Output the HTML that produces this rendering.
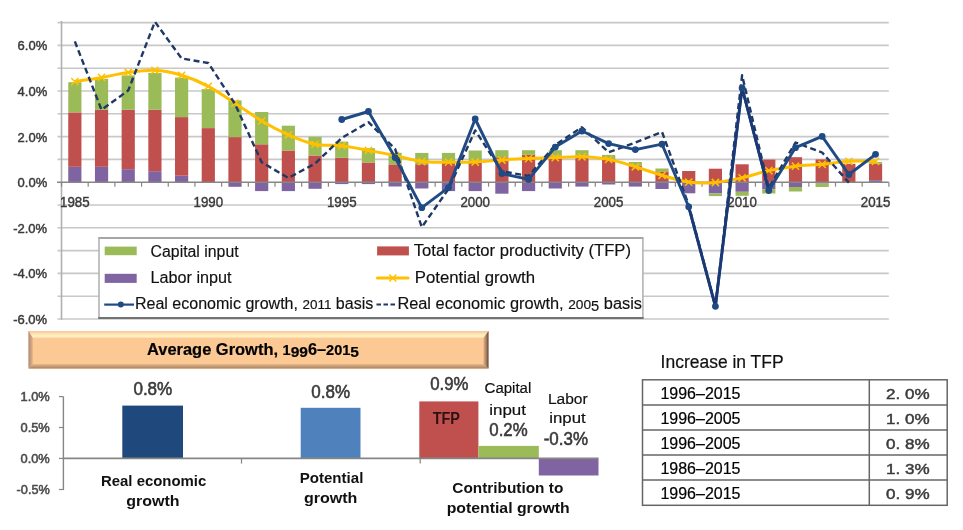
<!DOCTYPE html>
<html><head><meta charset="utf-8"><style>
html,body{margin:0;padding:0;background:#fff;width:963px;height:530px;overflow:hidden}
svg{display:block;font-family:"Liberation Sans",sans-serif;filter:blur(0.4px)}
.ax{font-size:13.5px;fill:#3a3a3a;stroke:#3a3a3a;stroke-width:0.45px}
.xl{font-size:14px;fill:#3a3a3a;stroke:#3a3a3a;stroke-width:0.4px}
.lg{font-size:16px;fill:#111;stroke:#111;stroke-width:0.15px}
.bn{font-size:16px;font-weight:bold;fill:#000;stroke:#000;stroke-width:0.2px}
.sax{font-size:12px;fill:#4a4a4a;stroke:#4a4a4a;stroke-width:0.5px}
.vl{font-size:17.5px;fill:#3a3a3a;stroke:#3a3a3a;stroke-width:0.55px}
.tfp{font-size:16px;fill:#2a1212;font-weight:bold}
.cl{font-size:15.5px;fill:#111;stroke:#111;stroke-width:0.2px}
.cat{font-size:14.5px;font-weight:bold;fill:#111}
.tt{font-size:18px;fill:#111;stroke:#111;stroke-width:0.2px}
.td{font-size:16px;fill:#000;stroke:#000;stroke-width:0.2px}
.tv{font-size:14.5px;fill:#3a3a3a;stroke:#3a3a3a;stroke-width:0.45px}
</style></head><body>
<svg width="963" height="530" viewBox="0 0 963 530">
<line x1="57.5" y1="22.6" x2="888.8" y2="22.6" stroke="#c8c8c8" stroke-width="1.6"/>
<line x1="57.5" y1="45.4" x2="888.8" y2="45.4" stroke="#c8c8c8" stroke-width="1.6"/>
<line x1="57.5" y1="68.2" x2="888.8" y2="68.2" stroke="#c8c8c8" stroke-width="1.6"/>
<line x1="57.5" y1="91" x2="888.8" y2="91" stroke="#c8c8c8" stroke-width="1.6"/>
<line x1="57.5" y1="113.8" x2="888.8" y2="113.8" stroke="#c8c8c8" stroke-width="1.6"/>
<line x1="57.5" y1="136.6" x2="888.8" y2="136.6" stroke="#c8c8c8" stroke-width="1.6"/>
<line x1="57.5" y1="159.4" x2="888.8" y2="159.4" stroke="#c8c8c8" stroke-width="1.6"/>
<line x1="57.5" y1="205" x2="888.8" y2="205" stroke="#c8c8c8" stroke-width="1.6"/>
<line x1="57.5" y1="227.8" x2="888.8" y2="227.8" stroke="#c8c8c8" stroke-width="1.6"/>
<line x1="57.5" y1="250.6" x2="888.8" y2="250.6" stroke="#c8c8c8" stroke-width="1.6"/>
<line x1="57.5" y1="273.4" x2="888.8" y2="273.4" stroke="#c8c8c8" stroke-width="1.6"/>
<line x1="57.5" y1="296.2" x2="888.8" y2="296.2" stroke="#c8c8c8" stroke-width="1.6"/>
<line x1="57.5" y1="319" x2="888.8" y2="319" stroke="#c8c8c8" stroke-width="1.6"/>
<line x1="61.5" y1="21" x2="61.5" y2="319.8" stroke="#b0b0b0" stroke-width="1.6"/>
<text x="47.2" y="50.4" text-anchor="end" class="ax" textLength="29.6" lengthAdjust="spacingAndGlyphs">6.0%</text>
<text x="47.2" y="96" text-anchor="end" class="ax" textLength="29.6" lengthAdjust="spacingAndGlyphs">4.0%</text>
<text x="47.2" y="141.6" text-anchor="end" class="ax" textLength="29.6" lengthAdjust="spacingAndGlyphs">2.0%</text>
<text x="47.2" y="187.2" text-anchor="end" class="ax" textLength="29.6" lengthAdjust="spacingAndGlyphs">0.0%</text>
<text x="47.2" y="232.8" text-anchor="end" class="ax" textLength="34" lengthAdjust="spacingAndGlyphs">-2.0%</text>
<text x="47.2" y="278.4" text-anchor="end" class="ax" textLength="34" lengthAdjust="spacingAndGlyphs">-4.0%</text>
<text x="47.2" y="324" text-anchor="end" class="ax" textLength="34" lengthAdjust="spacingAndGlyphs">-6.0%</text>
<rect x="68.25" y="166.8" width="13.2" height="15.4" fill="#8064a2"/>
<rect x="68.25" y="112.4" width="13.2" height="54.4" fill="#c0504d"/>
<rect x="68.25" y="82.2" width="13.2" height="30.2" fill="#9bbb59"/>
<rect x="94.94" y="166.8" width="13.2" height="15.4" fill="#8064a2"/>
<rect x="94.94" y="109.8" width="13.2" height="57" fill="#c0504d"/>
<rect x="94.94" y="78.8" width="13.2" height="31" fill="#9bbb59"/>
<rect x="121.63" y="169.2" width="13.2" height="13" fill="#8064a2"/>
<rect x="121.63" y="109.8" width="13.2" height="59.4" fill="#c0504d"/>
<rect x="121.63" y="75.4" width="13.2" height="34.4" fill="#9bbb59"/>
<rect x="148.32" y="171.2" width="13.2" height="11" fill="#8064a2"/>
<rect x="148.32" y="109.8" width="13.2" height="61.4" fill="#c0504d"/>
<rect x="148.32" y="72.9" width="13.2" height="36.9" fill="#9bbb59"/>
<rect x="175.01" y="175.7" width="13.2" height="6.5" fill="#8064a2"/>
<rect x="175.01" y="117.1" width="13.2" height="58.6" fill="#c0504d"/>
<rect x="175.01" y="77.6" width="13.2" height="39.5" fill="#9bbb59"/>
<rect x="201.7" y="128.1" width="13.2" height="54.1" fill="#c0504d"/>
<rect x="201.7" y="89.1" width="13.2" height="39" fill="#9bbb59"/>
<rect x="228.39" y="137.1" width="13.2" height="45.1" fill="#c0504d"/>
<rect x="228.39" y="100.4" width="13.2" height="36.7" fill="#9bbb59"/>
<rect x="228.39" y="182.2" width="13.2" height="4.6" fill="#8064a2"/>
<rect x="255.08" y="144.3" width="13.2" height="37.9" fill="#c0504d"/>
<rect x="255.08" y="112" width="13.2" height="32.3" fill="#9bbb59"/>
<rect x="255.08" y="182.2" width="13.2" height="8.9" fill="#8064a2"/>
<rect x="281.76" y="150.5" width="13.2" height="31.7" fill="#c0504d"/>
<rect x="281.76" y="125.7" width="13.2" height="24.8" fill="#9bbb59"/>
<rect x="281.76" y="182.2" width="13.2" height="8.9" fill="#8064a2"/>
<rect x="308.45" y="155.5" width="13.2" height="26.7" fill="#c0504d"/>
<rect x="308.45" y="136.8" width="13.2" height="18.7" fill="#9bbb59"/>
<rect x="308.45" y="182.2" width="13.2" height="6.6" fill="#8064a2"/>
<rect x="335.14" y="157.8" width="13.2" height="24.4" fill="#c0504d"/>
<rect x="335.14" y="141.6" width="13.2" height="16.2" fill="#9bbb59"/>
<rect x="335.14" y="182.2" width="13.2" height="1.9" fill="#8064a2"/>
<rect x="361.83" y="162.5" width="13.2" height="19.7" fill="#c0504d"/>
<rect x="361.83" y="148.2" width="13.2" height="14.3" fill="#9bbb59"/>
<rect x="361.83" y="182.2" width="13.2" height="1.9" fill="#8064a2"/>
<rect x="388.52" y="164.4" width="13.2" height="17.8" fill="#c0504d"/>
<rect x="388.52" y="152.8" width="13.2" height="11.6" fill="#9bbb59"/>
<rect x="388.52" y="182.2" width="13.2" height="4.3" fill="#8064a2"/>
<rect x="415.21" y="164.2" width="13.2" height="18" fill="#c0504d"/>
<rect x="415.21" y="152.9" width="13.2" height="11.3" fill="#9bbb59"/>
<rect x="415.21" y="182.2" width="13.2" height="6.3" fill="#8064a2"/>
<rect x="441.9" y="162.6" width="13.2" height="19.6" fill="#c0504d"/>
<rect x="441.9" y="152.9" width="13.2" height="9.7" fill="#9bbb59"/>
<rect x="441.9" y="182.2" width="13.2" height="8.9" fill="#8064a2"/>
<rect x="468.59" y="161" width="13.2" height="21.2" fill="#c0504d"/>
<rect x="468.59" y="150.5" width="13.2" height="10.5" fill="#9bbb59"/>
<rect x="468.59" y="182.2" width="13.2" height="8.9" fill="#8064a2"/>
<rect x="495.29" y="157.3" width="13.2" height="24.9" fill="#c0504d"/>
<rect x="495.29" y="150.2" width="13.2" height="7.1" fill="#9bbb59"/>
<rect x="495.29" y="182.2" width="13.2" height="11.5" fill="#8064a2"/>
<rect x="521.98" y="154.9" width="13.2" height="27.3" fill="#c0504d"/>
<rect x="521.98" y="150.2" width="13.2" height="4.7" fill="#9bbb59"/>
<rect x="521.98" y="182.2" width="13.2" height="8.9" fill="#8064a2"/>
<rect x="548.67" y="155.5" width="13.2" height="26.7" fill="#c0504d"/>
<rect x="548.67" y="150.2" width="13.2" height="5.3" fill="#9bbb59"/>
<rect x="548.67" y="182.2" width="13.2" height="6.3" fill="#8064a2"/>
<rect x="575.36" y="155.5" width="13.2" height="26.7" fill="#c0504d"/>
<rect x="575.36" y="150.2" width="13.2" height="5.3" fill="#9bbb59"/>
<rect x="575.36" y="182.2" width="13.2" height="4.4" fill="#8064a2"/>
<rect x="602.04" y="158.6" width="13.2" height="23.6" fill="#c0504d"/>
<rect x="602.04" y="154.9" width="13.2" height="3.7" fill="#9bbb59"/>
<rect x="602.04" y="182.2" width="13.2" height="2.3" fill="#8064a2"/>
<rect x="628.74" y="165.5" width="13.2" height="16.7" fill="#c0504d"/>
<rect x="628.74" y="162" width="13.2" height="3.5" fill="#9bbb59"/>
<rect x="628.74" y="182.2" width="13.2" height="4.4" fill="#8064a2"/>
<rect x="655.42" y="171.4" width="13.2" height="10.8" fill="#c0504d"/>
<rect x="655.42" y="168.5" width="13.2" height="2.9" fill="#9bbb59"/>
<rect x="655.42" y="182.2" width="13.2" height="6.8" fill="#8064a2"/>
<rect x="682.12" y="171" width="13.2" height="11.2" fill="#c0504d"/>
<rect x="682.12" y="182.2" width="13.2" height="11.1" fill="#8064a2"/>
<rect x="708.81" y="168.7" width="13.2" height="13.5" fill="#c0504d"/>
<rect x="708.81" y="182.2" width="13.2" height="11.3" fill="#8064a2"/>
<rect x="708.81" y="193.5" width="13.2" height="2.6" fill="#9bbb59"/>
<rect x="735.5" y="164.3" width="13.2" height="17.9" fill="#c0504d"/>
<rect x="735.5" y="182.2" width="13.2" height="9.6" fill="#8064a2"/>
<rect x="735.5" y="191.8" width="13.2" height="4" fill="#9bbb59"/>
<rect x="762.19" y="159.6" width="13.2" height="22.6" fill="#c0504d"/>
<rect x="762.19" y="182.2" width="13.2" height="7" fill="#8064a2"/>
<rect x="762.19" y="189.2" width="13.2" height="4.3" fill="#9bbb59"/>
<rect x="788.88" y="157.2" width="13.2" height="25" fill="#c0504d"/>
<rect x="788.88" y="182.2" width="13.2" height="4.8" fill="#8064a2"/>
<rect x="788.88" y="187" width="13.2" height="4.5" fill="#9bbb59"/>
<rect x="815.57" y="159.4" width="13.2" height="22.8" fill="#c0504d"/>
<rect x="815.57" y="182.2" width="13.2" height="1.4" fill="#8064a2"/>
<rect x="815.57" y="183.6" width="13.2" height="3.4" fill="#9bbb59"/>
<rect x="842.25" y="163.8" width="13.2" height="18.4" fill="#c0504d"/>
<rect x="868.95" y="180.2" width="13.2" height="2" fill="#8064a2"/>
<rect x="868.95" y="163.8" width="13.2" height="16.4" fill="#c0504d"/>
<rect x="868.95" y="161.9" width="13.2" height="1.9" fill="#9bbb59"/>
<line x1="57" y1="182.2" x2="888.8" y2="182.2" stroke="#868686" stroke-width="1.6"/>
<line x1="61.5" y1="182.2" x2="61.5" y2="186.7" stroke="#868686" stroke-width="1.2"/>
<line x1="88.19" y1="182.2" x2="88.19" y2="186.7" stroke="#868686" stroke-width="1.2"/>
<line x1="114.88" y1="182.2" x2="114.88" y2="186.7" stroke="#868686" stroke-width="1.2"/>
<line x1="141.57" y1="182.2" x2="141.57" y2="186.7" stroke="#868686" stroke-width="1.2"/>
<line x1="168.26" y1="182.2" x2="168.26" y2="186.7" stroke="#868686" stroke-width="1.2"/>
<line x1="194.95" y1="182.2" x2="194.95" y2="186.7" stroke="#868686" stroke-width="1.2"/>
<line x1="221.64" y1="182.2" x2="221.64" y2="186.7" stroke="#868686" stroke-width="1.2"/>
<line x1="248.33" y1="182.2" x2="248.33" y2="186.7" stroke="#868686" stroke-width="1.2"/>
<line x1="275.02" y1="182.2" x2="275.02" y2="186.7" stroke="#868686" stroke-width="1.2"/>
<line x1="301.71" y1="182.2" x2="301.71" y2="186.7" stroke="#868686" stroke-width="1.2"/>
<line x1="328.4" y1="182.2" x2="328.4" y2="186.7" stroke="#868686" stroke-width="1.2"/>
<line x1="355.09" y1="182.2" x2="355.09" y2="186.7" stroke="#868686" stroke-width="1.2"/>
<line x1="381.78" y1="182.2" x2="381.78" y2="186.7" stroke="#868686" stroke-width="1.2"/>
<line x1="408.47" y1="182.2" x2="408.47" y2="186.7" stroke="#868686" stroke-width="1.2"/>
<line x1="435.16" y1="182.2" x2="435.16" y2="186.7" stroke="#868686" stroke-width="1.2"/>
<line x1="461.85" y1="182.2" x2="461.85" y2="186.7" stroke="#868686" stroke-width="1.2"/>
<line x1="488.54" y1="182.2" x2="488.54" y2="186.7" stroke="#868686" stroke-width="1.2"/>
<line x1="515.23" y1="182.2" x2="515.23" y2="186.7" stroke="#868686" stroke-width="1.2"/>
<line x1="541.92" y1="182.2" x2="541.92" y2="186.7" stroke="#868686" stroke-width="1.2"/>
<line x1="568.61" y1="182.2" x2="568.61" y2="186.7" stroke="#868686" stroke-width="1.2"/>
<line x1="595.3" y1="182.2" x2="595.3" y2="186.7" stroke="#868686" stroke-width="1.2"/>
<line x1="621.99" y1="182.2" x2="621.99" y2="186.7" stroke="#868686" stroke-width="1.2"/>
<line x1="648.68" y1="182.2" x2="648.68" y2="186.7" stroke="#868686" stroke-width="1.2"/>
<line x1="675.37" y1="182.2" x2="675.37" y2="186.7" stroke="#868686" stroke-width="1.2"/>
<line x1="702.06" y1="182.2" x2="702.06" y2="186.7" stroke="#868686" stroke-width="1.2"/>
<line x1="728.75" y1="182.2" x2="728.75" y2="186.7" stroke="#868686" stroke-width="1.2"/>
<line x1="755.44" y1="182.2" x2="755.44" y2="186.7" stroke="#868686" stroke-width="1.2"/>
<line x1="782.13" y1="182.2" x2="782.13" y2="186.7" stroke="#868686" stroke-width="1.2"/>
<line x1="808.82" y1="182.2" x2="808.82" y2="186.7" stroke="#868686" stroke-width="1.2"/>
<line x1="835.51" y1="182.2" x2="835.51" y2="186.7" stroke="#868686" stroke-width="1.2"/>
<line x1="862.2" y1="182.2" x2="862.2" y2="186.7" stroke="#868686" stroke-width="1.2"/>
<line x1="888.89" y1="182.2" x2="888.89" y2="186.7" stroke="#868686" stroke-width="1.2"/>
<text x="74.84" y="206.7" text-anchor="middle" class="xl" textLength="29.6" lengthAdjust="spacingAndGlyphs">1985</text>
<text x="208.3" y="206.7" text-anchor="middle" class="xl" textLength="29.6" lengthAdjust="spacingAndGlyphs">1990</text>
<text x="341.75" y="206.7" text-anchor="middle" class="xl" textLength="29.6" lengthAdjust="spacingAndGlyphs">1995</text>
<text x="475.19" y="206.7" text-anchor="middle" class="xl" textLength="29.6" lengthAdjust="spacingAndGlyphs">2000</text>
<text x="608.64" y="206.7" text-anchor="middle" class="xl" textLength="29.6" lengthAdjust="spacingAndGlyphs">2005</text>
<text x="742.1" y="206.7" text-anchor="middle" class="xl" textLength="29.6" lengthAdjust="spacingAndGlyphs">2010</text>
<text x="875.55" y="206.7" text-anchor="middle" class="xl" textLength="29.6" lengthAdjust="spacingAndGlyphs">2015</text>
<path d="M74.84,81.6 C79.29,80.9 92.64,78.92 101.53,77.4 C110.43,75.88 119.33,73.68 128.23,72.5 C137.12,71.32 146.02,69.83 154.92,70.3 C163.81,70.77 172.71,72.63 181.61,75.3 C190.5,77.97 199.4,81.65 208.3,86.3 C217.19,90.95 226.09,97.42 234.99,103.2 C243.88,108.98 252.78,115.73 261.68,121 C270.57,126.27 279.47,130.92 288.37,134.8 C297.26,138.68 306.16,142.48 315.06,144.3 C323.95,146.12 332.85,144.68 341.75,145.7 C350.64,146.72 359.54,148.75 368.44,150.4 C377.33,152.05 386.23,153.75 395.12,155.6 C404.02,157.45 412.92,160.4 421.81,161.5 C430.71,162.6 439.61,162.12 448.5,162.2 C457.4,162.28 466.3,162.37 475.19,162 C484.09,161.63 492.99,160.57 501.89,160 C510.78,159.43 519.68,159 528.58,158.6 C537.47,158.2 546.37,157.9 555.27,157.6 C564.16,157.3 573.06,156.5 581.96,156.8 C590.85,157.1 599.75,157.73 608.64,159.4 C617.54,161.07 626.44,164.15 635.34,166.8 C644.23,169.45 653.13,172.75 662.02,175.3 C670.92,177.85 679.82,180.9 688.72,182.1 C697.61,183.3 706.51,183.22 715.41,182.5 C724.3,181.78 733.2,179.78 742.1,177.8 C750.99,175.82 759.89,172.53 768.79,170.6 C777.68,168.67 786.58,167.25 795.48,166.2 C804.37,165.15 813.27,165.12 822.17,164.3 C831.06,163.48 839.96,161.8 848.86,161.3 C857.75,160.8 871.1,161.3 875.55,161.3" fill="none" stroke="#ffc000" stroke-width="3"/>
<path d="M71.25,78L78.44,85.2M71.25,85.2L78.44,78" stroke="#ffc000" stroke-width="1.5"/>
<path d="M97.94,73.8L105.13,81M97.94,81L105.13,73.8" stroke="#ffc000" stroke-width="1.5"/>
<path d="M124.63,68.9L131.83,76.1M124.63,76.1L131.83,68.9" stroke="#ffc000" stroke-width="1.5"/>
<path d="M151.32,66.7L158.52,73.9M151.32,73.9L158.52,66.7" stroke="#ffc000" stroke-width="1.5"/>
<path d="M178.01,71.7L185.21,78.9M178.01,78.9L185.21,71.7" stroke="#ffc000" stroke-width="1.5"/>
<path d="M204.7,82.7L211.9,89.9M204.7,89.9L211.9,82.7" stroke="#ffc000" stroke-width="1.5"/>
<path d="M231.39,99.6L238.59,106.8M231.39,106.8L238.59,99.6" stroke="#ffc000" stroke-width="1.5"/>
<path d="M258.07,117.4L265.28,124.6M258.07,124.6L265.28,117.4" stroke="#ffc000" stroke-width="1.5"/>
<path d="M284.76,131.2L291.97,138.4M284.76,138.4L291.97,131.2" stroke="#ffc000" stroke-width="1.5"/>
<path d="M311.45,140.7L318.66,147.9M311.45,147.9L318.66,140.7" stroke="#ffc000" stroke-width="1.5"/>
<path d="M338.14,142.1L345.35,149.3M338.14,149.3L345.35,142.1" stroke="#ffc000" stroke-width="1.5"/>
<path d="M364.83,146.8L372.04,154M364.83,154L372.04,146.8" stroke="#ffc000" stroke-width="1.5"/>
<path d="M391.52,152L398.73,159.2M391.52,159.2L398.73,152" stroke="#ffc000" stroke-width="1.5"/>
<path d="M418.21,157.9L425.42,165.1M418.21,165.1L425.42,157.9" stroke="#ffc000" stroke-width="1.5"/>
<path d="M444.9,158.6L452.11,165.8M444.9,165.8L452.11,158.6" stroke="#ffc000" stroke-width="1.5"/>
<path d="M471.59,158.4L478.8,165.6M471.59,165.6L478.8,158.4" stroke="#ffc000" stroke-width="1.5"/>
<path d="M498.29,156.4L505.49,163.6M498.29,163.6L505.49,156.4" stroke="#ffc000" stroke-width="1.5"/>
<path d="M524.98,155L532.18,162.2M524.98,162.2L532.18,155" stroke="#ffc000" stroke-width="1.5"/>
<path d="M551.67,154L558.87,161.2M551.67,161.2L558.87,154" stroke="#ffc000" stroke-width="1.5"/>
<path d="M578.36,153.2L585.56,160.4M578.36,160.4L585.56,153.2" stroke="#ffc000" stroke-width="1.5"/>
<path d="M605.04,155.8L612.25,163M605.04,163L612.25,155.8" stroke="#ffc000" stroke-width="1.5"/>
<path d="M631.74,163.2L638.94,170.4M631.74,170.4L638.94,163.2" stroke="#ffc000" stroke-width="1.5"/>
<path d="M658.42,171.7L665.62,178.9M658.42,178.9L665.62,171.7" stroke="#ffc000" stroke-width="1.5"/>
<path d="M685.12,178.5L692.32,185.7M685.12,185.7L692.32,178.5" stroke="#ffc000" stroke-width="1.5"/>
<path d="M711.81,178.9L719.01,186.1M711.81,186.1L719.01,178.9" stroke="#ffc000" stroke-width="1.5"/>
<path d="M738.5,174.2L745.7,181.4M738.5,181.4L745.7,174.2" stroke="#ffc000" stroke-width="1.5"/>
<path d="M765.19,167L772.39,174.2M765.19,174.2L772.39,167" stroke="#ffc000" stroke-width="1.5"/>
<path d="M791.88,162.6L799.08,169.8M791.88,169.8L799.08,162.6" stroke="#ffc000" stroke-width="1.5"/>
<path d="M818.57,160.7L825.77,167.9M818.57,167.9L825.77,160.7" stroke="#ffc000" stroke-width="1.5"/>
<path d="M845.25,157.7L852.46,164.9M845.25,164.9L852.46,157.7" stroke="#ffc000" stroke-width="1.5"/>
<path d="M871.95,157.7L879.15,164.9M871.95,164.9L879.15,157.7" stroke="#ffc000" stroke-width="1.5"/>
<polyline points="74.84,41.4 101.53,109.8 128.23,90.5 154.92,21.8 181.61,58.4 208.3,63 234.99,104 261.68,162.2 288.37,178 315.06,163.5 341.75,138 368.44,122.2 395.12,149 421.81,227.2 448.5,189 475.19,130.4 501.89,171.3 528.58,176 555.27,145 581.96,127.3 608.64,152.3 635.34,142.5 662.02,132 688.72,205 715.41,306 742.1,75.3 768.79,188 795.48,142.5 822.17,152.5 848.86,182.6" fill="none" stroke="#1f3864" stroke-width="2.4" stroke-dasharray="6,3.5" stroke-linejoin="round"/>
<polyline points="341.75,119.5 368.44,111.5 395.12,157.6 421.81,207.7 448.5,187.6 475.19,119 501.89,173.5 528.58,179.4 555.27,147.1 581.96,131 608.64,143.6 635.34,149.6 662.02,144.2 688.72,206.8 715.41,306.3 742.1,88 768.79,190.5 795.48,147.7 822.17,136.4 848.86,174.5 875.55,154.3" fill="none" stroke="#1f4a84" stroke-width="2.9" stroke-linejoin="round"/>
<polyline points="688.72,206.8 715.41,306.3 742.1,88 768.79,190.5" fill="none" stroke="#1b3874" stroke-width="2.6" stroke-linejoin="round"/>
<circle cx="341.75" cy="119.5" r="3.4" fill="#1f4a84"/>
<circle cx="368.44" cy="111.5" r="3.4" fill="#1f4a84"/>
<circle cx="395.12" cy="157.6" r="3.4" fill="#1f4a84"/>
<circle cx="421.81" cy="207.7" r="3.4" fill="#1f4a84"/>
<circle cx="448.5" cy="187.6" r="3.4" fill="#1f4a84"/>
<circle cx="475.19" cy="119" r="3.4" fill="#1f4a84"/>
<circle cx="501.89" cy="173.5" r="3.4" fill="#1f4a84"/>
<circle cx="528.58" cy="179.4" r="3.4" fill="#1f4a84"/>
<circle cx="555.27" cy="147.1" r="3.4" fill="#1f4a84"/>
<circle cx="581.96" cy="131" r="3.4" fill="#1f4a84"/>
<circle cx="608.64" cy="143.6" r="3.4" fill="#1f4a84"/>
<circle cx="635.34" cy="149.6" r="3.4" fill="#1f4a84"/>
<circle cx="662.02" cy="144.2" r="3.4" fill="#1f4a84"/>
<circle cx="688.72" cy="206.8" r="3.4" fill="#1f4a84"/>
<circle cx="715.41" cy="306.3" r="3.4" fill="#1f4a84"/>
<circle cx="742.1" cy="88" r="3.4" fill="#1f4a84"/>
<circle cx="768.79" cy="190.5" r="3.4" fill="#1f4a84"/>
<circle cx="795.48" cy="147.7" r="3.4" fill="#1f4a84"/>
<circle cx="822.17" cy="136.4" r="3.4" fill="#1f4a84"/>
<circle cx="848.86" cy="174.5" r="3.4" fill="#1f4a84"/>
<circle cx="875.55" cy="154.3" r="3.4" fill="#1f4a84"/>
<rect x="99" y="238" width="544" height="80.3" fill="#fff"/>
<line x1="98.2" y1="238.1" x2="643.6" y2="238.1" stroke="#a6a6a6" stroke-width="2"/>
<line x1="99" y1="238" x2="99" y2="318" stroke="#b3b3b3" stroke-width="1.6"/>
<line x1="642.9" y1="238" x2="642.9" y2="318" stroke="#b3b3b3" stroke-width="1.6"/>
<line x1="98.2" y1="318" x2="643.6" y2="318" stroke="#727272" stroke-width="2"/>
<rect x="104.7" y="246.6" width="32" height="8.6" fill="#9bbb59"/>
<rect x="104.7" y="273.8" width="32" height="9.1" fill="#8064a2"/>
<rect x="377.1" y="246.4" width="31.8" height="9" fill="#c0504d"/>
<line x1="377.5" y1="278" x2="408" y2="278" stroke="#ffc000" stroke-width="3.2" stroke-linecap="round"/>
<path d="M389.3,274.5L396.3,281.5M389.3,281.5L396.3,274.5" stroke="#ffc000" stroke-width="1.4"/>
<line x1="104.2" y1="304.6" x2="134" y2="304.6" stroke="#1f4a84" stroke-width="2.2"/>
<circle cx="120.8" cy="304.6" r="3" fill="#1f4a84"/>
<line x1="376.5" y1="304.6" x2="396.8" y2="304.6" stroke="#1f3864" stroke-width="2" stroke-dasharray="4.5,2.5"/>
<text x="150.6" y="256.6" class="lg" textLength="88" lengthAdjust="spacingAndGlyphs" text-anchor="start">Capital input</text>
<text x="150.6" y="283.2" class="lg" textLength="81" lengthAdjust="spacingAndGlyphs" text-anchor="start">Labor input</text>
<text x="134.9" y="309.3" class="lg" textLength="238.4" lengthAdjust="spacingAndGlyphs" text-anchor="start">Real economic growth, <tspan dy="0" font-size="13.44">2</tspan><tspan dy="0" font-size="13.44">0</tspan><tspan dy="0" font-size="13.44">1</tspan><tspan dy="0" font-size="13.44">1</tspan> basis</text>
<text x="413.8" y="256.4" class="lg" textLength="217.2" lengthAdjust="spacingAndGlyphs" text-anchor="start">Total factor productivity (TFP)</text>
<text x="414.8" y="283.4" class="lg" textLength="120.2" lengthAdjust="spacingAndGlyphs" text-anchor="start">Potential growth</text>
<text x="397.4" y="309.3" class="lg" textLength="244.6" lengthAdjust="spacingAndGlyphs" text-anchor="start">Real economic growth, <tspan dy="0" font-size="13.44">2</tspan><tspan dy="0" font-size="13.44">0</tspan><tspan dy="0" font-size="13.44">0</tspan><tspan dy="1.92" font-size="14.4">5</tspan><tspan dy="-1.92"> basis</tspan></text>
<defs><linearGradient id="gT" x1="0" y1="0" x2="0" y2="1"><stop offset="0" stop-color="#f6c49c"/><stop offset="0.45" stop-color="#fde6b4"/><stop offset="0.75" stop-color="#fff3c4"/><stop offset="1" stop-color="#fdd9a6"/></linearGradient><linearGradient id="gL" x1="0" y1="0" x2="1" y2="0"><stop offset="0" stop-color="#ae8a74"/><stop offset="1" stop-color="#e4b288"/></linearGradient><linearGradient id="gR" x1="0" y1="0" x2="1" y2="0"><stop offset="0" stop-color="#e2ae84"/><stop offset="0.5" stop-color="#b08466"/><stop offset="1" stop-color="#5a4639"/></linearGradient><linearGradient id="gB" x1="0" y1="0" x2="0" y2="1"><stop offset="0" stop-color="#e8b98c"/><stop offset="1" stop-color="#a4805f"/></linearGradient></defs>
<rect x="28.5" y="331" width="460" height="37.6" fill="#fcc894"/>
<polygon points="28.5,331 488.5,331 483.5,338 32.8,338" fill="url(#gT)"/>
<polygon points="28.5,368.6 32.8,364 483.5,364 488.5,368.6" fill="url(#gB)"/>
<polygon points="28.5,331 32.8,338 32.8,364 28.5,368.6" fill="url(#gL)"/>
<polygon points="488.5,331 483.5,338 483.5,364 488.5,368.6" fill="url(#gR)"/>
<text x="147" y="355.3" class="bn" textLength="131" lengthAdjust="spacingAndGlyphs">Average Growth,</text>
<text x="282.6" y="355.3" class="bn" textLength="76.4" lengthAdjust="spacingAndGlyphs"><tspan dy="0" font-size="14.25">1</tspan><tspan dy="1.81" font-size="15.26">9</tspan><tspan dy="0" font-size="15.26">9</tspan><tspan dy="-1.81" font-size="16">6</tspan>–<tspan dy="0" font-size="14.25">2</tspan><tspan dy="0" font-size="14.25">0</tspan><tspan dy="0" font-size="14.25">1</tspan><tspan dy="1.81" font-size="15.26">5</tspan></text>
<line x1="63.4" y1="396.6" x2="63.4" y2="490" stroke="#868686" stroke-width="1.4"/>
<line x1="59" y1="396.6" x2="63.4" y2="396.6" stroke="#868686" stroke-width="1.2"/>
<text x="49.8" y="400.8" class="sax" text-anchor="end" textLength="29.3" lengthAdjust="spacingAndGlyphs">1.0%</text>
<line x1="59" y1="427.5" x2="63.4" y2="427.5" stroke="#868686" stroke-width="1.2"/>
<text x="49.8" y="431.7" class="sax" text-anchor="end" textLength="29.3" lengthAdjust="spacingAndGlyphs">0.5%</text>
<line x1="59" y1="458.4" x2="63.4" y2="458.4" stroke="#868686" stroke-width="1.2"/>
<text x="49.8" y="462.6" class="sax" text-anchor="end" textLength="29.3" lengthAdjust="spacingAndGlyphs">0.0%</text>
<line x1="59" y1="489.5" x2="63.4" y2="489.5" stroke="#868686" stroke-width="1.2"/>
<text x="49.8" y="493.7" class="sax" text-anchor="end" textLength="33.2" lengthAdjust="spacingAndGlyphs">-0.5%</text>
<rect x="122.3" y="405.6" width="60.7" height="52.8" fill="#1f497d"/>
<rect x="300.7" y="407.8" width="59.8" height="50.6" fill="#4f81bd"/>
<rect x="419.3" y="401.4" width="59.1" height="57" fill="#c0504d"/>
<rect x="478.4" y="445.9" width="60.4" height="12.5" fill="#9bbb59"/>
<rect x="538.8" y="458.4" width="59.7" height="17.1" fill="#8064a2"/>
<line x1="63.4" y1="458.4" x2="598.5" y2="458.4" stroke="#868686" stroke-width="1.6"/>
<line x1="241.5" y1="458.4" x2="241.5" y2="463.6" stroke="#868686" stroke-width="1.2"/>
<line x1="420.2" y1="458.4" x2="420.2" y2="463.6" stroke="#868686" stroke-width="1.2"/>
<text x="133.4" y="395.2" class="vl" textLength="38.9" lengthAdjust="spacingAndGlyphs" text-anchor="start">0.8%</text>
<text x="311.3" y="398" class="vl" textLength="38.7" lengthAdjust="spacingAndGlyphs" text-anchor="start">0.8%</text>
<text x="430.3" y="390.3" class="vl" textLength="38.2" lengthAdjust="spacingAndGlyphs" text-anchor="start">0.9%</text>
<text x="432.7" y="423.5" class="tfp" textLength="27.2" lengthAdjust="spacingAndGlyphs" text-anchor="start">TFP</text>
<text x="484.6" y="393.3" class="cl" textLength="46.7" lengthAdjust="spacingAndGlyphs" text-anchor="start">Capital</text>
<text x="489.3" y="414.8" class="cl" textLength="36.7" lengthAdjust="spacingAndGlyphs" text-anchor="start">input</text>
<text x="489.3" y="436" class="vl" textLength="38.3" lengthAdjust="spacingAndGlyphs" text-anchor="start">0.2%</text>
<text x="547.9" y="404.2" class="cl" textLength="39.8" lengthAdjust="spacingAndGlyphs" text-anchor="start">Labor</text>
<text x="549.3" y="422.5" class="cl" textLength="36.4" lengthAdjust="spacingAndGlyphs" text-anchor="start">input</text>
<text x="543.7" y="445.3" class="vl" textLength="44.3" lengthAdjust="spacingAndGlyphs" text-anchor="start">-0.3%</text>
<text x="101" y="485.6" class="cat" textLength="105.3" lengthAdjust="spacingAndGlyphs" text-anchor="start">Real economic</text>
<text x="126.2" y="505.5" class="cat" textLength="53.3" lengthAdjust="spacingAndGlyphs" text-anchor="start">growth</text>
<text x="299.7" y="482.9" class="cat" textLength="63.7" lengthAdjust="spacingAndGlyphs" text-anchor="start">Potential</text>
<text x="303.9" y="502.5" class="cat" textLength="53.5" lengthAdjust="spacingAndGlyphs" text-anchor="start">growth</text>
<text x="452.3" y="493" class="cat" textLength="111" lengthAdjust="spacingAndGlyphs" text-anchor="start">Contribution to</text>
<text x="446.7" y="512.7" class="cat" textLength="122.9" lengthAdjust="spacingAndGlyphs" text-anchor="start">potential growth</text>
<text x="660.6" y="368" class="tt" textLength="123" lengthAdjust="spacingAndGlyphs" text-anchor="start">Increase in TFP</text>
<rect x="642.5" y="379.8" width="304.7" height="125.5" fill="none" stroke="#666" stroke-width="1.5"/>
<line x1="642.5" y1="405.0" x2="947.2" y2="405.0" stroke="#666" stroke-width="1.5"/>
<line x1="642.5" y1="429.9" x2="947.2" y2="429.9" stroke="#666" stroke-width="1.5"/>
<line x1="642.5" y1="455.1" x2="947.2" y2="455.1" stroke="#666" stroke-width="1.5"/>
<line x1="642.5" y1="480.0" x2="947.2" y2="480.0" stroke="#666" stroke-width="1.5"/>
<line x1="869.3" y1="379.8" x2="869.3" y2="505.3" stroke="#666" stroke-width="1.5"/>
<text x="660.4" y="398.8" class="td">1996–2015</text>
<text x="886" y="398.8" class="tv" textLength="43.6" lengthAdjust="spacingAndGlyphs">2. 0%</text>
<text x="660.4" y="424" class="td">1996–2005</text>
<text x="886" y="424" class="tv" textLength="43.6" lengthAdjust="spacingAndGlyphs">1. 0%</text>
<text x="660.4" y="448.9" class="td">1996–2005</text>
<text x="886" y="448.9" class="tv" textLength="43.6" lengthAdjust="spacingAndGlyphs">0. 8%</text>
<text x="660.4" y="474.1" class="td">1986–2015</text>
<text x="886" y="474.1" class="tv" textLength="43.6" lengthAdjust="spacingAndGlyphs">1. 3%</text>
<text x="660.4" y="499" class="td">1996–2015</text>
<text x="886" y="499" class="tv" textLength="43.6" lengthAdjust="spacingAndGlyphs">0. 9%</text>
</svg>
</body></html>
